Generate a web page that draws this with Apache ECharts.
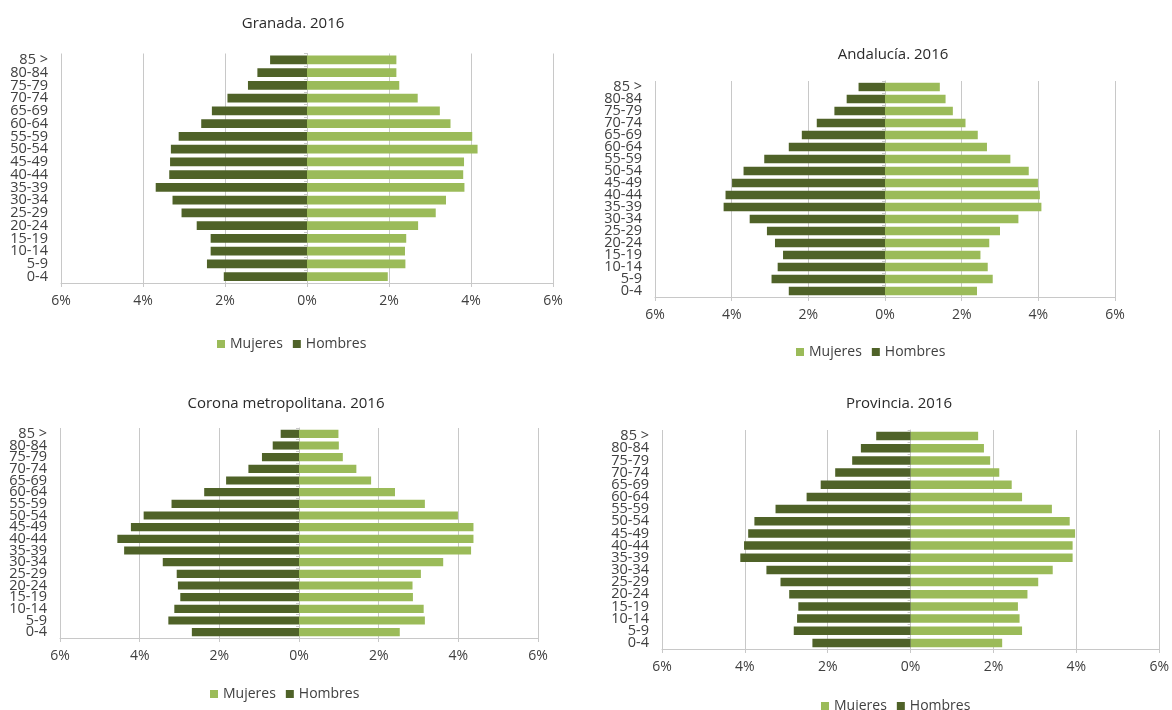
<!DOCTYPE html>
<html>
<head>
<meta charset="utf-8">
<script src="https://cdn.jsdelivr.net/npm/echarts@6/dist/echarts.min.js"></script>
<style>
html,body{margin:0;padding:0;background:#fff;}
#c{width:1172px;height:710px;}
</style>
</head>
<body>
<div id="c"></div>
<script>
// Age groups, top to bottom
const ageGroups = ['85 >','80-84','75-79','70-74','65-69','60-64','55-59','50-54','45-49','40-44','35-39','30-34','25-29','20-24','15-19','10-14','5-9','0-4'];
const xTicks = [-6,-4,-2,0,2,4,6];

// Granada 2016 (% of population)
const granadaHombres = [0.90,1.21,1.44,1.94,2.32,2.58,3.13,3.32,3.34,3.36,3.69,3.28,3.06,2.69,2.35,2.35,2.44,2.03];
const granadaMujeres = [2.18,2.18,2.25,2.70,3.24,3.50,4.03,4.16,3.83,3.81,3.84,3.39,3.14,2.71,2.42,2.39,2.40,1.97];

// Andalucía 2016
const andaluciaHombres = [0.69,1.00,1.32,1.78,2.17,2.51,3.15,3.69,3.99,4.16,4.21,3.53,3.08,2.87,2.66,2.80,2.96,2.51];
const andaluciaMujeres = [1.43,1.58,1.77,2.10,2.42,2.66,3.27,3.75,3.99,4.04,4.08,3.48,3.00,2.72,2.49,2.68,2.81,2.40];

// Corona metropolitana 2016
const coronaHombres = [0.46,0.66,0.93,1.27,1.83,2.38,3.20,3.90,4.22,4.56,4.39,3.42,3.07,3.04,2.98,3.13,3.28,2.69];
const coronaMujeres = [0.99,1.00,1.10,1.44,1.81,2.41,3.16,3.99,4.38,4.38,4.32,3.62,3.06,2.85,2.86,3.13,3.16,2.53];

// Provincia 2016
const provinciaHombres = [0.83,1.20,1.41,1.82,2.17,2.51,3.26,3.77,3.92,4.02,4.11,3.48,3.14,2.93,2.71,2.74,2.82,2.37];
const provinciaMujeres = [1.63,1.77,1.92,2.14,2.44,2.69,3.41,3.84,3.97,3.91,3.91,3.43,3.08,2.82,2.59,2.63,2.69,2.21];

const titles = ['Granada. 2016','Andalucía. 2016','Corona metropolitana. 2016','Provincia. 2016'];
const seriesNames = ['Mujeres','Hombres'];

const COL_M = '#9BBB59';
const COL_H = '#4F6228';
const TXT = '#404040';
const GRIDC = '#c8c8c8';
const FONT = '"Open Sans", "Noto Sans", sans-serif';

const panels = [
  {h: granadaHombres, m: granadaMujeres, grid:{left:61, top:53.5, width:492, height:229.5}, title:{x:288, y:19}, legend:{x:292, y:341}},
  {h: andaluciaHombres, m: andaluciaMujeres, grid:{left:655, top:81, width:460, height:216}, title:{x:888, y:50}, legend:{x:871, y:349}},
  {h: coronaHombres, m: coronaMujeres, grid:{left:60, top:428, width:478, height:210}, title:{x:281, y:399}, legend:{x:285, y:691}},
  {h: provinciaHombres, m: provinciaMujeres, grid:{left:662, top:430, width:498, height:219}, title:{x:894, y:399}, legend:{x:896, y:703}}
];

const option = {
  animation: false,
  backgroundColor: '#fff',
  textStyle: {fontFamily: FONT},
  title: [], legend: [], grid: [], xAxis: [], yAxis: [], series: []
};

panels.forEach((p, i) => {
  option.title.push({
    text: titles[i], left: p.title.x, top: p.title.y, textAlign: 'center', textVerticalAlign: 'middle',
    textStyle: {fontFamily: FONT, fontSize: 15, fontWeight: 'normal', color: '#2a2a2a'}
  });
  option.grid.push({left: p.grid.left, top: p.grid.top, width: p.grid.width, height: p.grid.height, containLabel: false});
  option.xAxis.push({
    type: 'value', gridIndex: i, min: -6, max: 6, interval: 2,
    axisLine: {show: true, onZero: false, lineStyle: {color: GRIDC, width: 1}},
    axisTick: {show: true, length: 4, lineStyle: {color: GRIDC}},
    splitLine: {show: true, lineStyle: {color: GRIDC, width: 1}},
    axisLabel: {color: TXT, fontSize: 14, fontFamily: FONT, margin: 11, formatter: v => Math.abs(v) + '%'}
  });
  // label axis at left
  option.yAxis.push({
    type: 'category', gridIndex: i, data: ageGroups, inverse: true, position: 'left',
    axisLine: {show: false, onZero: false}, axisTick: {show: false},
    axisLabel: {color: TXT, fontSize: 14.5, fontFamily: FONT, margin: 13, interval: 0, lineHeight: 13}
  });
  // central axis line at 0
  option.yAxis.push({
    type: 'category', gridIndex: i, data: ageGroups, inverse: true, position: 'left',
    axisLine: {show: true, onZero: true, lineStyle: {color: GRIDC}},
    axisTick: {show: true, length: 3, interval: 0, lineStyle: {color: GRIDC}},
    axisLabel: {show: false}
  });
  option.legend.push({
    data: seriesNames.map(n => n + ' ' + i), left: p.legend.x, top: p.legend.y,
    orient: 'horizontal', icon: 'rect', itemWidth: 8, itemHeight: 8, itemGap: 10,
    textStyle: {color: TXT, fontSize: 14, fontFamily: FONT},
    formatter: n => n.split(' ')[0]
  });
  option.series.push({
    name: 'Mujeres ' + i, type: 'bar', xAxisIndex: i, yAxisIndex: 2 * i,
    data: p.m, itemStyle: {color: COL_M}, barGap: '-100%', barCategoryGap: '30%'
  });
  option.series.push({
    name: 'Hombres ' + i, type: 'bar', xAxisIndex: i, yAxisIndex: 2 * i,
    data: p.h.map(v => -v), itemStyle: {color: COL_H}, barGap: '-100%', barCategoryGap: '30%'
  });
});

// legends: center horizontally on given x
option.legend.forEach(l => { l.left = l.left - 80; l.top = l.top - 9; });

const chart = echarts.init(document.getElementById('c'), null, {renderer: 'canvas'});
chart.setOption(option);
</script>
</body>
</html>
